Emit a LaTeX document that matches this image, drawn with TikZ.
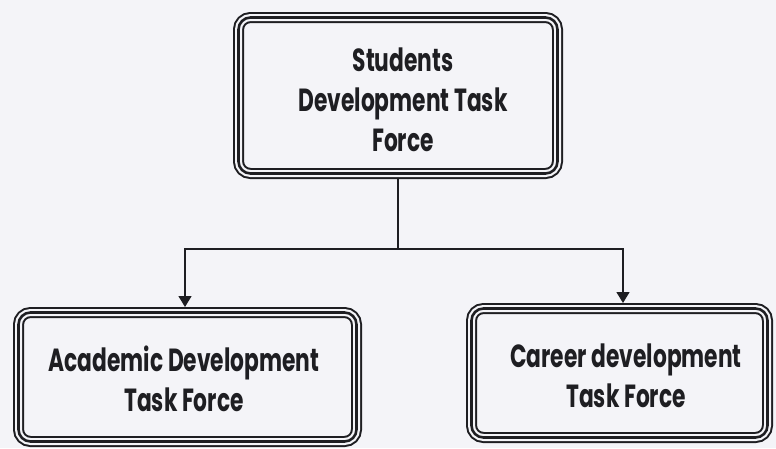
\documentclass[tikz,border=0pt]{standalone}
\usepackage{fontspec}
\setmainfont{Poppins}[FakeStretch=0.68]
\usetikzlibrary{arrows.meta}
\definecolor{paper}{RGB}{244,244,248}
\definecolor{ink}{RGB}{30,30,34}
\begin{document}
\begin{tikzpicture}[x=1pt,y=-1pt,
  tbox/.style={shape=rectangle, rounded corners=12pt, inner sep=0pt, outer sep=5.5pt,
    preaction={fill=paper, draw=ink, line width=11pt},
    preaction={draw=paper, line width=7pt},
    draw=ink, line width=2.6pt},
  ttext/.style={font=\bfseries\fontsize{32}{40}\selectfont, text=ink, align=center},
  conn/.style={draw=ink, line width=1.4pt},
  arr/.style={conn, -{Triangle[length=11pt,width=13pt]}}]
\fill[paper] (0,0) rectangle (776,448);
\useasboundingbox (0,0) rectangle (776,448);
\node[tbox, minimum width=319pt, minimum height=156pt] (top) at (398,95.5) {};
\node[tbox, minimum width=338pt, minimum height=129pt] (left) at (187.5,377) {};
\node[tbox, minimum width=296pt, minimum height=129pt] (right) at (619.5,373) {};
\node[ttext] (topT) at (403,100) {Students\\Development Task\\Force};
\node[ttext] (leftT) at (184,379) {Academic Development\\Task Force};
\node[ttext] (rightT) at (626,376) {Career development\\Task Force};
\coordinate (j) at (398,249);
\draw[conn] (top.south) -- (j);
\draw[arr] (j) -| ([xshift=-2.5pt]left.north);
\draw[arr] (j) -| ([xshift=3.5pt]right.north);
\end{tikzpicture}
\end{document}
